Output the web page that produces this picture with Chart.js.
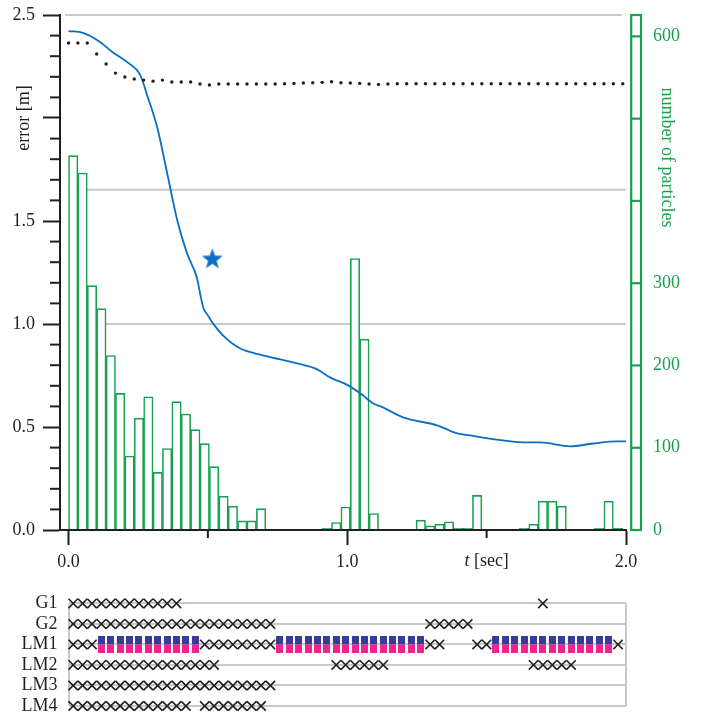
<!DOCTYPE html>
<html><head><meta charset="utf-8">
<script src="https://cdn.jsdelivr.net/npm/chart.js@4.4.1/dist/chart.umd.min.js"></script>
<style>
html,body{margin:0;padding:0;background:#fff;}
#wrap{position:relative;width:711px;height:715px;overflow:hidden;}
#c1{position:absolute;left:0;top:0;}
#c2{position:absolute;left:0;top:580px;}
</style></head><body>
<div id="wrap">
<canvas id="c1" width="711" height="580"></canvas>
<canvas id="c2" width="711" height="135"></canvas>
</div>
<script>
// ---------------- data ----------------
const frameDt = 0.0337; // seconds per frame / histogram bin
// particle count per bin (right axis)
const binCounts = [455,434,297,269,212,166,90,136,162,70,99,156,141,122,105,77,41,29,11,11,26,0,0,0,0,0,0,2,9,28,330,232,20,0,0,0,0,12,5,7,10,2,2,42,0,0,0,0,2,7,35,35,29,0,0,0,2,35,2];
// blue error curve
const errT = [0,0.052,0.113,0.156,0.213,0.257,0.285,0.318,0.354,0.390,0.425,0.461,0.472,0.483,0.500,0.518,0.554,0.615,0.698,0.820,0.892,0.938,1.003,1.056,1.092,1.128,1.200,1.322,1.394,1.440,1.559,1.645,1.692,1.799,1.882,1.968,2.0];
const errV = [2.422,2.413,2.369,2.322,2.269,2.209,2.099,1.956,1.732,1.504,1.344,1.222,1.149,1.081,1.042,1.003,0.945,0.882,0.848,0.809,0.780,0.741,0.702,0.654,0.615,0.595,0.547,0.508,0.469,0.459,0.435,0.425,0.425,0.406,0.420,0.430,0.430];
// dotted error curve, one value per frame
const dotV = [2.364,2.364,2.364,2.311,2.262,2.218,2.199,2.189,2.184,2.179,2.184,2.175,2.175,2.175,2.165,2.160,2.165,2.165,2.165,2.165,2.165,2.165,2.165,2.166,2.168,2.170,2.171,2.173,2.176,2.171,2.170,2.168,2.165,2.163,2.165,
  2.166,2.166,2.166,2.166,2.166,2.166,2.166,2.166,2.166,2.166,2.166,2.166,2.166,2.166,2.166,2.166,2.166,2.166,2.166,2.166,2.166,2.166,2.166,2.166,2.166];
const starT = 0.516, starV = 1.314;
// timeline rows (frame index runs, inclusive)
const rowLabels = ['G1','G2','LM1','LM2','LM3','LM4'];
const g1Runs = [[0,11],[50,50]];
const g2Runs = [[0,21],[38,42]];
const lm1Runs = [[0,2],[14,21],[38,39],[43,44],[58,58]];
const lm1Matched = [[3,13],[22,37],[45,57]];
const lm2Runs = [[0,15],[28,33],[49,53]];
const lm3Runs = [[0,21]];
const lm4Runs = [[0,12],[14,20]];
const leftTicks = [0,0.5,1,1.5,2,2.5];
const rightTicks = [0,100,200,300,600];
const xTicks = [0,1,2];

// ---------------- style ----------------
const FONT = '"Liberation Serif","Times New Roman",serif';
const BLACK = '#231f20', GREEN = '#17a04f', BLUE = '#0b6fc3', GRAY = '#c5c8cf';
const PINK = '#ec2590', NAVY = '#3a3d97';

function noPad(s){ s.paddingTop=0; s.paddingBottom=0; s.paddingLeft=0; s.paddingRight=0; }

function makeStar(){
  const c=document.createElement('canvas'); c.width=26; c.height=26;
  const g=c.getContext('2d'); g.fillStyle=BLUE; g.beginPath();
  for(let i=0;i<10;i++){const r=i%2?4.5:11;const a=-Math.PI/2+i*Math.PI/5;
    const px=13+r*Math.cos(a), py=13+r*Math.sin(a); if(i) g.lineTo(px,py); else g.moveTo(px,py);}
  g.closePath(); g.fill(); return c;
}
function makeSquare(){
  const c=document.createElement('canvas'); c.width=7; c.height=17;
  const g=c.getContext('2d'); g.fillStyle=NAVY; g.fillRect(0,0,7,8.5);
  g.fillStyle=PINK; g.fillRect(0,8.5,7,8.5); return c;
}

const deco1 = {
  id:'deco1',
  beforeDatasetsDraw(chart){
    const {ctx, scales:{x,y}} = chart;
    ctx.save(); ctx.strokeStyle=GRAY; ctx.lineWidth=2;
    [[2.5,-0.012,1.985],[1.652,0,2.0],[1.0,0,2.0]].forEach(([v,a,b])=>{
      const py=y.getPixelForValue(v);
      ctx.beginPath(); ctx.moveTo(x.getPixelForValue(a),py); ctx.lineTo(x.getPixelForValue(b),py); ctx.stroke();
    });
    ctx.restore();
  },
  afterDraw(chart){
    const {ctx, scales:{x,y,y2}} = chart;
    ctx.save();
    ctx.strokeStyle=BLACK; ctx.lineWidth=2;
    // minor y ticks
    for(let i=1;i<25;i++){ if(i%5===0) continue;
      const py=y.getPixelForValue(i/10);
      ctx.beginPath(); ctx.moveTo(50,py); ctx.lineTo(y.right,py); ctx.stroke(); }
    // minor x ticks
    [0.5,1.5].forEach(v=>{const px=x.getPixelForValue(v);
      ctx.beginPath(); ctx.moveTo(px,x.top); ctx.lineTo(px,x.top+8); ctx.stroke();});
    // left title
    ctx.fillStyle=BLACK; ctx.font='18px '+FONT; ctx.textAlign='center'; ctx.textBaseline='middle';
    ctx.save(); ctx.translate(24,y.getPixelForValue(2)); ctx.rotate(-Math.PI/2); ctx.fillText('error [m]',0,0); ctx.restore();
    // x title
    const cx=x.getPixelForValue(1.5), cy=561.5;
    ctx.font='italic 18px '+FONT; const wt=ctx.measureText('t').width;
    ctx.font='18px '+FONT; const wr=ctx.measureText(' [sec]').width;
    const x0=cx-(wt+wr)/2; ctx.textAlign='left';
    ctx.font='italic 18px '+FONT; ctx.fillText('t',x0,cy);
    ctx.font='18px '+FONT; ctx.fillText(' [sec]',x0+wt,cy);
    // right column
    ctx.strokeStyle=GREEN; ctx.lineWidth=2.2;
    const top=y2.getPixelForValue(y2.max), bot=y2.getPixelForValue(0);
    ctx.strokeRect(631.2,top,9.8,bot-top);
    for(let v=100;v<=600;v+=100){const py=y2.getPixelForValue(v);
      ctx.beginPath(); ctx.moveTo(631.2,py); ctx.lineTo(641,py); ctx.stroke();}
    // right title
    ctx.fillStyle=GREEN; ctx.textAlign='center'; ctx.font='18px '+FONT;
    ctx.save(); ctx.translate(666.5,157.5); ctx.rotate(Math.PI/2); ctx.fillText('number of particles',0,0); ctx.restore();
    ctx.restore();
  }
};

new Chart(document.getElementById('c1'), {
  type:'scatter',
  data:{datasets:[
    {type:'bar', label:'particles', xAxisID:'x', yAxisID:'y2',
     data: binCounts.map((c,k)=>({x:(k+0.5)*frameDt, y: c>0?c:null})),
     backgroundColor:'#ffffff', borderColor:GREEN, borderWidth:1.6, borderSkipped:'start',
     barPercentage:1, categoryPercentage:1, order:5},
    {type:'line', label:'error', yAxisID:'y', data: errT.map((t,i)=>({x:t,y:errV[i]})),
     borderColor:BLUE, borderWidth:1.8, pointRadius:0, cubicInterpolationMode:'monotone', fill:false, order:2, clip:false},
    {type:'scatter', label:'error2', yAxisID:'y', data: dotV.map((v,k)=>({x:k*frameDt,y:v})),
     pointRadius:1.7, backgroundColor:BLACK, borderWidth:0, order:1, clip:false},
    {type:'scatter', label:'star', yAxisID:'y', data:[{x:starT,y:starV}],
     pointStyle:makeStar(), pointRadius:10, order:0, clip:false}
  ]},
  options:{
    responsive:false, animation:false, events:[],
    layout:{padding:{top:15,left:0,right:0,bottom:0}, autoPadding:false},
    plugins:{legend:{display:false}, tooltip:{enabled:false}},
    scales:{
      x:{type:'linear', min:-0.0305, max:2, offset:false, position:'bottom',
         afterBuildTicks:s=>{s.ticks=xTicks.map(v=>({value:v}));},
         afterFit:s=>{s.height=50; noPad(s);},
         ticks:{callback:v=>Number(v).toFixed(1), font:{family:FONT,size:18}, color:BLACK, padding:6, maxRotation:0, autoSkip:false},
         grid:{drawOnChartArea:false, offset:false, tickLength:15, tickWidth:2, tickColor:BLACK},
         border:{color:BLACK, width:2, z:1}},
      y:{type:'linear', min:0, max:2.5, position:'left',
         afterBuildTicks:s=>{s.ticks=leftTicks.map(v=>({value:v}));},
         afterFit:s=>{s.width=60; noPad(s);},
         ticks:{callback:v=>(v===2?'':Number(v).toFixed(1)), font:{family:FONT,size:18}, color:BLACK, padding:8, autoSkip:false},
         grid:{drawOnChartArea:false, tickLength:17, tickWidth:2, tickColor:BLACK},
         border:{color:BLACK, width:2}},
      y2:{type:'linear', min:0, max:626, position:'right', beginAtZero:true,
         afterBuildTicks:s=>{s.ticks=rightTicks.map(v=>({value:v}));},
         afterFit:s=>{s.width=85; noPad(s);},
         ticks:{callback:v=>String(v), font:{family:FONT,size:18}, color:GREEN, padding:27, autoSkip:false},
         grid:{display:false, drawTicks:false},
         border:{display:false}}
    }
  },
  plugins:[deco1]
});

// ---------------- timeline ----------------
function expand(runs,label){const out=[];runs.forEach(([a,b])=>{for(let k=a;k<=b;k++)out.push({x:(k+0.5)*frameDt,y:label});});return out;}
const crossRows = [g1Runs,g2Runs,lm1Runs,lm2Runs,lm3Runs,lm4Runs];
const tlSets = crossRows.map((runs,i)=>({label:rowLabels[i], data:expand(runs,rowLabels[i]),
  pointStyle:'crossRot', pointRadius:6.6, borderColor:BLACK, backgroundColor:BLACK, borderWidth:1.6, clip:false}));
tlSets.push({label:'LM1 matched', data:expand(lm1Matched,'LM1'), pointStyle:makeSquare(), pointRadius:5, clip:false});

new Chart(document.getElementById('c2'), {
  type:'scatter',
  data:{datasets:tlSets},
  options:{
    responsive:false, animation:false, events:[],
    layout:{padding:{top:23.4,left:0,right:85,bottom:0}, autoPadding:false},
    plugins:{legend:{display:false}, tooltip:{enabled:false}},
    scales:{
      x:{type:'linear', min:0, max:2, offset:false,
         afterBuildTicks:s=>{s.ticks=[0,2].map(v=>({value:v}));},
         afterFit:s=>{s.height=9; noPad(s);},
         ticks:{display:false},
         grid:{color:GRAY, lineWidth:2, drawTicks:false, offset:false},
         border:{display:false}},
      y:{type:'category', labels:rowLabels, offset:false, position:'left',
         afterFit:s=>{s.width=68.5; noPad(s);},
         ticks:{font:{family:FONT,size:18}, color:BLACK, padding:11, autoSkip:false},
         grid:{color:GRAY, lineWidth:2, drawTicks:false, offset:false},
         border:{display:false}}
    }
  }
});
</script>
</body></html>
